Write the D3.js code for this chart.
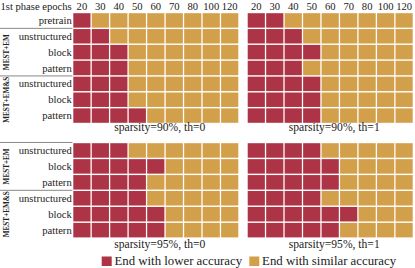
<!DOCTYPE html>
<html>
<head>
<meta charset="utf-8">
<script src="https://cdn.jsdelivr.net/npm/d3@7"></script>
<style>
  body { margin: 0; background: #fff; }
</style>
</head>
<body>
<div id="chart"></div>
<script>
// epochs of the first phase (columns)
var epochs = ["20", "30", "40", "50", "60", "70", "80", "100", "120"];
var rowsTop = ["pretrain", "unstructured", "block", "pattern", "unstructured", "block", "pattern"];
var rowsBottom = ["unstructured", "block", "pattern", "unstructured", "block", "pattern"];

// how many leading epochs end with lower accuracy, one number per row
var s90th0 = [1, 2, 3, 3, 3, 3, 4];
var s90th1 = [2, 3, 4, 3, 4, 4, 4];
var s95th0 = [3, 5, 4, 4, 5, 5];
var s95th1 = [4, 5, 5, 4, 6, 5];

var panelTitles = ["sparsity=90%, th=0", "sparsity=90%, th=1", "sparsity=95%, th=0", "sparsity=95%, th=1"];
var legendLabels = ["End with lower accuracy", "End with similar accuracy"];

var width = 415, height = 268;
var red = "#ad3446", gold = "#d2a04a";
var serif = "'Liberation Serif', monospace";

var svg = d3.select("div#chart").append("svg")
    .attr("width", width)
    .attr("height", height);

var xLeft = d3.scaleBand().domain(epochs).range([73.3, 238.3]).paddingInner(0.07);
var xRight = d3.scaleBand().domain(epochs).range([247.7, 412.7]).paddingInner(0.07);
var yTop = d3.scaleBand().domain(d3.range(rowsTop.length)).range([13.2, 122.8]).paddingInner(0.09);
var yBottom = d3.scaleBand().domain(d3.range(rowsBottom.length)).range([143.2, 237.4]).paddingInner(0.09);

var color = d3.scaleOrdinal().domain(legendLabels).range([red, gold]);

function label(sel, size) {
  return sel.style("font-family", serif)
    .style("font-size", size + "px")
    .style("fill", "#222");
}

function panel(x, y, counts, title, baseline) {
  var g = svg.append("g");
  var cells = [];
  counts.forEach(function(n, r) {
    epochs.forEach(function(e, c) {
      cells.push({row: r, epoch: e, lower: c < n});
    });
  });
  g.selectAll("rect")
    .data(cells)
    .enter().append("rect")
    .attr("x", function(d) { return x(d.epoch); })
    .attr("y", function(d) { return y(d.row); })
    .attr("width", x.bandwidth())
    .attr("height", y.bandwidth())
    .attr("fill", function(d) { return color(d.lower ? legendLabels[0] : legendLabels[1]); });

  var r = x.range();
  label(g.append("text"), 11.6)
    .attr("x", (r[0] + r[1]) / 2 + 4)
    .attr("y", baseline)
    .attr("text-anchor", "middle")
    .text(title);
}

panel(xLeft, yTop, s90th0, panelTitles[0], 131.2);
panel(xRight, yTop, s90th1, panelTitles[1], 131.2);
panel(xLeft, yBottom, s95th0, panelTitles[2], 248);
panel(xRight, yBottom, s95th1, panelTitles[3], 248);

// column headers
[xLeft, xRight].forEach(function(x) {
  label(svg.append("g").selectAll("text")
    .data(epochs)
    .enter().append("text"), 10.6)
    .attr("x", function(d) { return x(d) + x.bandwidth() / 2; })
    .attr("y", 9.5)
    .attr("text-anchor", "middle")
    .text(function(d) { return d; });
});

label(svg.append("text"), 10.6)
  .attr("x", 71.7)
  .attr("y", 9.5)
  .attr("text-anchor", "end")
  .text("1st phase epochs");

// row labels, separators and group names
function rowLabels(rows, y, groupStart) {
  label(svg.append("g").selectAll("text")
    .data(rows)
    .enter().append("text"), 10.6)
    .attr("x", 71.7)
    .attr("y", function(d, i) { return y(i) + y.bandwidth() / 2 + 3.6; })
    .attr("text-anchor", "end")
    .text(function(d) { return d; });

  var step = y.step();
  [groupStart, groupStart + 3].forEach(function(s, k) {
    var yy = y(s) - (step - y.bandwidth()) / 2;
    svg.append("line")
      .attr("x1", 0).attr("x2", 72.5)
      .attr("y1", yy).attr("y2", yy)
      .attr("stroke", "#888")
      .attr("stroke-width", 1);
    var cy = y(s) + (y(s + 2) + y.bandwidth() - y(s)) / 2;
    label(svg.append("text"), 7.2)
      .attr("transform", "translate(9.2," + cy + ") rotate(-90)")
      .attr("text-anchor", "middle")
      .style("font-weight", "bold")
      .text(k === 0 ? "MEST+EM" : "MEST+EM&S");
  });
}

rowLabels(rowsTop, yTop, 1);
rowLabels(rowsBottom, yBottom, 0);

// legend
var legend = svg.append("g").selectAll("g")
  .data(legendLabels)
  .enter().append("g")
  .attr("transform", function(d, i) { return "translate(" + [101.7, 249.3][i] + ",256.5)"; });

legend.append("rect")
  .attr("width", 10)
  .attr("height", 9.5)
  .attr("fill", function(d) { return color(d); });

label(legend.append("text"), 12.8)
  .attr("x", 12.8)
  .attr("y", 8.7)
  .text(function(d) { return d; });
</script>
</body>
</html>
